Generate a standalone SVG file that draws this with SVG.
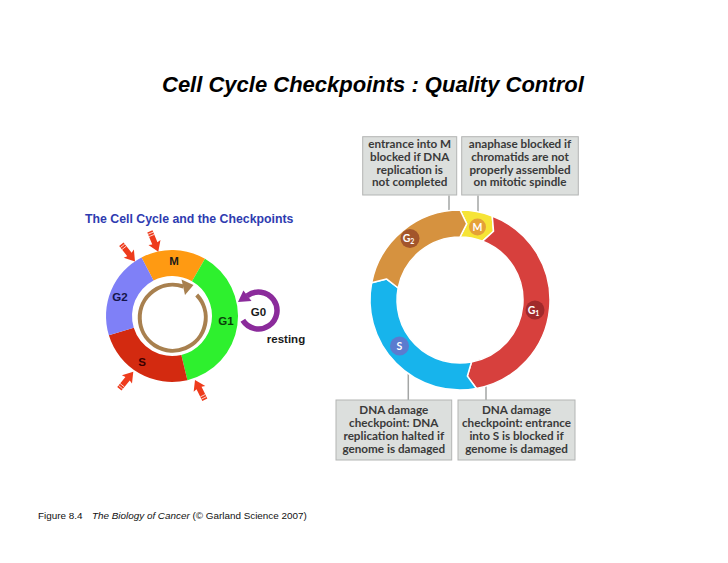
<svg xmlns="http://www.w3.org/2000/svg" xmlns:xlink="http://www.w3.org/1999/xlink" width="728" height="563" viewBox="0 0 728 563">
<style>
.title{font-family:"Liberation Sans",Arial,sans-serif;font-weight:bold;font-style:italic;font-size:22px;fill:#000}
.sub{font-family:"Liberation Sans",Arial,sans-serif;font-weight:bold;font-size:12.3px;fill:#2e3bb0}
.lbl{font-family:"Liberation Sans",Arial,sans-serif;font-weight:bold;font-size:11.5px;text-anchor:middle}
.cap{font-family:"Liberation Sans",Arial,sans-serif;font-size:9.9px;fill:#111}
.box{fill:#dcdfdd;stroke:#b3b5b4;stroke-width:1}
.bt{font-family:Lato,"Open Sans",sans-serif;font-weight:bold;font-size:11.7px;fill:#3a3a3a;text-anchor:middle}
.seg{stroke:#fff;stroke-width:1.5;stroke-linejoin:round}
.ct{font-family:Lato,"Open Sans",sans-serif;font-weight:bold;font-size:10.5px;fill:#fff;text-anchor:middle}
.call{stroke:#a4a6a5;stroke-width:1.5;fill:none}
.dot{fill:#c8cac9;stroke:#a4a6a5;stroke-width:1}
</style>
<defs>
<g id="ra">
<path d="M0,0 L-10,-6.5 L-9,-2.8 L-22,-2.8 L-22,2.8 L-9,2.8 L-10,6.5 Z" fill="#ee3b1c"/>
<path d="M-20,-2.8 V2.8 M-17.5,-2.8 V2.8" stroke="#fff" stroke-width="0.7"/>
</g>
</defs>
<rect width="728" height="563" fill="#fff"/>
<text class="title" x="162" y="92">Cell Cycle Checkpoints : Quality Control</text>

<!-- Left cycle -->
<g id="left-cycle">
<text class="sub" x="85" y="222.5">The Cell Cycle and the Checkpoints</text>
<g id="L-M"><path d="M141.52,257.46 A66,66 0 0 1 205,258.84 L192,281.36 A40,40 0 0 0 153.53,280.52 Z" fill="#ff9a12"/><text class="lbl" x="174" y="265" fill="#1a1a1a">M</text></g>
<g id="L-G1"><path d="M205,258.84 A66,66 0 0 1 187.41,380.18 L181.34,354.89 A40,40 0 0 0 192,281.36 Z" fill="#2ef02e"/><text class="lbl" x="226" y="325" fill="#0b3d0b">G1</text></g>
<g id="L-S"><path d="M187.41,380.18 A66,66 0 0 1 108.88,335.3 L133.75,327.69 A40,40 0 0 0 181.34,354.89 Z" fill="#d32a10"/><text class="lbl" x="142" y="366" fill="#3a0000">S</text></g>
<g id="L-G2"><path d="M108.88,335.3 A66,66 0 0 1 141.52,257.46 L153.53,280.52 A40,40 0 0 0 133.75,327.69 Z" fill="#7f80f7"/><text class="lbl" x="120" y="301" fill="#14144a">G2</text></g>
<g id="L-G0"><text class="lbl" x="258.5" y="315.5" fill="#1a1a1a">G0</text><text class="lbl" x="286" y="342.5" fill="#1a1a1a">resting</text></g>
</g>

<g id="connectors">
<path d="M196.7,295 A33,33 0 1 1 183.5,286.5" fill="none" stroke="#a8804f" stroke-width="4"/>
<polygon points="193.5,285 181.5,279.5 185,295" fill="#a8804f"/>
<path d="M242.81,320.3 A18.5,18.5 0 1 0 247.11,295.92" fill="none" stroke="#8b2b9b" stroke-width="5.5"/>
<polygon points="238,302 243.4,290.5 251.5,301" fill="#8b2b9b"/>
<use xlink:href="#ra" transform="translate(135,261.5) rotate(51.7)"/>
<use xlink:href="#ra" transform="translate(158.3,251.7) rotate(67.5)"/>
<use xlink:href="#ra" transform="translate(133.3,371.7) rotate(-50.7)"/>
<use xlink:href="#ra" transform="translate(195,380) rotate(-116.6)"/>
<path class="call" d="M449,195.5 V214 M478,195.5 V215 M408.3,363.3 V400 M486,380 V400"/>
<circle class="dot" cx="449" cy="214" r="2"/>
<circle class="dot" cx="478" cy="215" r="2"/>
<circle class="dot" cx="408.3" cy="363.3" r="2"/>
<circle class="dot" cx="486" cy="380" r="2"/>
</g>

<!-- Right cycle -->
<g id="right-cycle">
<g id="R-M"><path class="seg" d="M460,210 A90,90 0 0 1 492.25,215.98 L493.54,231.24 L482.58,241.18 A63,63 0 0 0 460,237 L466.67,223.79 Z" fill="#f6e436"/></g>
<g id="R-G1"><path class="seg" d="M492.25,215.98 A90,90 0 0 1 476.4,388.49 L467.33,376.15 L471.48,361.94 A63,63 0 0 0 482.58,241.18 L493.54,231.24 Z" fill="#d7403d"/></g>
<g id="R-S"><path class="seg" d="M476.4,388.49 A90,90 0 0 1 371.65,282.83 L386.46,278.91 L398.16,287.98 A63,63 0 0 0 471.48,361.94 L467.33,376.15 Z" fill="#17b4ec"/></g>
<g id="R-G2"><path class="seg" d="M371.65,282.83 A90,90 0 0 1 460,210 L466.67,223.79 L460,237 A63,63 0 0 0 398.16,287.98 L386.46,278.91 Z" fill="#d6923f"/></g>
<g id="R-G2-label"><circle cx="410" cy="238.5" r="9.5" fill="#a3552b"/><text class="ct" x="408.5" y="242">G<tspan font-size="7" dy="2">2</tspan></text></g>
<g id="R-M-label"><circle cx="477.5" cy="227" r="8.5" fill="#e5a137"/><text class="ct" x="477.5" y="230.5">M</text></g>
<g id="R-G1-label"><circle cx="535" cy="310" r="9.5" fill="#a12a2b"/><text class="ct" x="533.5" y="313.5">G<tspan font-size="7" dy="2">1</tspan></text></g>
<g id="R-S-label"><circle cx="399.5" cy="346" r="9.5" fill="#5b7bcf"/><text class="ct" x="399.5" y="349.5">S</text></g>
</g>

<g id="box-m-entry"><rect class="box" x="362.7" y="136.7" width="94" height="58.3"/>
<text class="bt" x="409.7" y="148.3">entrance into M</text><text class="bt" x="409.7" y="161">blocked if DNA</text><text class="bt" x="409.7" y="173.7">replication is</text><text class="bt" x="409.7" y="186.4">not completed</text></g>
<g id="box-anaphase"><rect class="box" x="461.7" y="136.7" width="116.6" height="58.3"/>
<text class="bt" x="520" y="148.3">anaphase blocked if</text><text class="bt" x="520" y="161">chromatids are not</text><text class="bt" x="520" y="173.7">properly assembled</text><text class="bt" x="520" y="186.4">on mitotic spindle</text></g>
<g id="box-s-damage"><rect class="box" x="336" y="400" width="115.7" height="60"/>
<text class="bt" x="393.8" y="414.3">DNA damage</text><text class="bt" x="393.8" y="427.3">checkpoint: DNA</text><text class="bt" x="393.8" y="440.3">replication halted if</text><text class="bt" x="393.8" y="453.3">genome is damaged</text></g>
<g id="box-g1-damage"><rect class="box" x="458" y="400" width="117" height="60"/>
<text class="bt" x="516.5" y="414.3">DNA damage</text><text class="bt" x="516.5" y="427.3">checkpoint: entrance</text><text class="bt" x="516.5" y="440.3">into S is blocked if</text><text class="bt" x="516.5" y="453.3">genome is damaged</text></g>

<text class="cap" x="38" y="519">Figure 8.4<tspan x="92" font-style="italic">The Biology of Cancer</tspan> (© Garland Science 2007)</text>
</svg>
